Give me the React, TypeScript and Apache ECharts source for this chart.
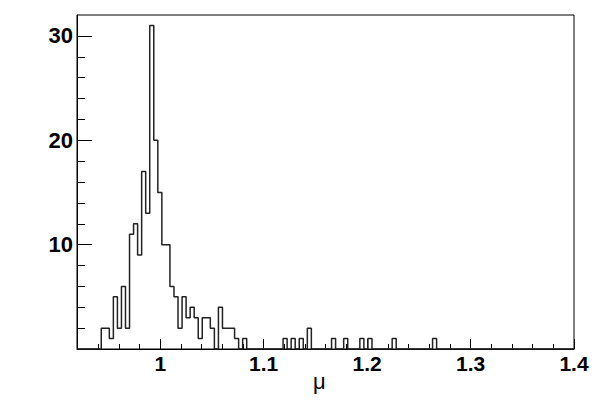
import React, { useEffect, useRef } from "react";
import * as echarts from "echarts";

// Histogram binning (ROOT-style): 128 bins from 0.9 to 1.4
const binLow = 0.9;
const binWidth = 0.00390625;
const firstVisibleBin = 5;
const lastBin = 128;
const firstBin = 11;
// counts for bins 11 .. 93
const counts = [
  2, 2, 1, 5, 2, 6, 2, 11, 12, 9, 17, 13, 31, 20, 15, 10, 10, 6, 5, 2,
  5, 3, 4, 3, 1, 3, 3, 2, 0, 4, 2, 2, 2, 1, 0, 1,
  0, 0, 0, 0, 0, 0, 0, 0, 0,
  1, 0, 1, 0, 1, 0, 2,
  0, 0, 0, 0, 0,
  1, 0, 0, 1,
  0, 0, 0,
  1, 0, 1,
  0, 0, 0, 0, 0,
  1,
  0, 0, 0, 0, 0, 0, 0, 0, 0,
  1,
];

const xLabelValues = [1, 1.1, 1.2, 1.3, 1.4];
const xMinorValues = [0.94, 0.96, 0.98, 1.02, 1.04, 1.06, 1.08, 1.12, 1.14, 1.16, 1.18, 1.22, 1.24, 1.26, 1.28, 1.32, 1.34, 1.36, 1.38];
const yLabelValues = [10, 20, 30];
const yMinorValues = [2, 4, 6, 8, 12, 14, 16, 18, 22, 24, 26, 28];
const xTitle = "μ";

const xMin = binLow + firstVisibleBin * binWidth;
const xMax = 1.4;
const yMax = 32;

function countAt(k: number): number {
  const i = k - firstBin;
  return i >= 0 && i < counts.length ? counts[i] : 0;
}

export default function App() {
  const ref = useRef<HTMLDivElement>(null);
  useEffect(() => {
    if (!ref.current) return;
    const chart = echarts.init(ref.current, null, { renderer: "svg" });
    const data: [number, number][] = [];
    for (let k = firstVisibleBin; k < lastBin; k++) {
      data.push([binLow + k * binWidth, countAt(k)]);
    }
    data.push([binLow + lastBin * binWidth, 0]);
    const font = "'Liberation Sans', Arial, Helvetica, sans-serif";
    chart.setOption({
      animation: false,
      backgroundColor: "#ffffff",
      grid: {
        left: 77,
        top: 15,
        width: 497,
        height: 334,
        show: true,
        borderColor: "#000",
        borderWidth: 1,
        backgroundColor: "transparent",
      },
      xAxis: [
        {
          type: "value",
          min: xMin,
          max: xMax,
          axisLine: { show: true, lineStyle: { color: "#000", width: 1 } },
          axisTick: { show: true, inside: true, length: 10, customValues: xLabelValues, lineStyle: { color: "#000" } },
          axisLabel: {
            customValues: xLabelValues,
            formatter: (v: number) => String(Math.round(v * 10) / 10),
            color: "#000",
            fontWeight: "bold",
            fontSize: 21,
            fontFamily: font,
            margin: 4,
          },
          splitLine: { show: false },
        },
        {
          type: "value",
          min: xMin,
          max: xMax,
          position: "bottom",
          axisLine: { show: false },
          axisTick: { show: true, inside: true, length: 5, customValues: xMinorValues, lineStyle: { color: "#000" } },
          axisLabel: { show: false },
          splitLine: { show: false },
        },
      ],
      yAxis: [
        {
          type: "value",
          min: 0,
          max: yMax,
          axisLine: { show: true, lineStyle: { color: "#000", width: 1 } },
          axisTick: { show: true, inside: true, length: 15, customValues: yLabelValues, lineStyle: { color: "#000" } },
          axisLabel: {
            customValues: yLabelValues,
            color: "#000",
            fontWeight: "bold",
            fontSize: 22,
            fontFamily: font,
            margin: 4,
          },
          splitLine: { show: false },
        },
        {
          type: "value",
          min: 0,
          max: yMax,
          position: "left",
          offset: 0,
          axisLine: { show: false },
          axisTick: { show: true, inside: true, length: 8, customValues: yMinorValues, lineStyle: { color: "#000" } },
          axisLabel: { show: false },
          splitLine: { show: false },
        },
      ],
      graphic: [
        {
          type: "text",
          left: 313,
          top: 370,
          style: { text: xTitle, fontSize: 22, fontFamily: font, fill: "#000" },
        },
      ],
      series: [
        {
          type: "line",
          xAxisIndex: 0,
          yAxisIndex: 0,
          step: "end",
          showSymbol: false,
          symbol: "none",
          data,
          lineStyle: { color: "#222", width: 1.5 },
          clip: true,
        },
      ],
    });
    return () => chart.dispose();
  }, []);
  return (
    <div
      ref={ref}
      style={{ position: "fixed", left: 0, top: 0, width: 598, height: 402, background: "#fff" }}
    />
  );
}
